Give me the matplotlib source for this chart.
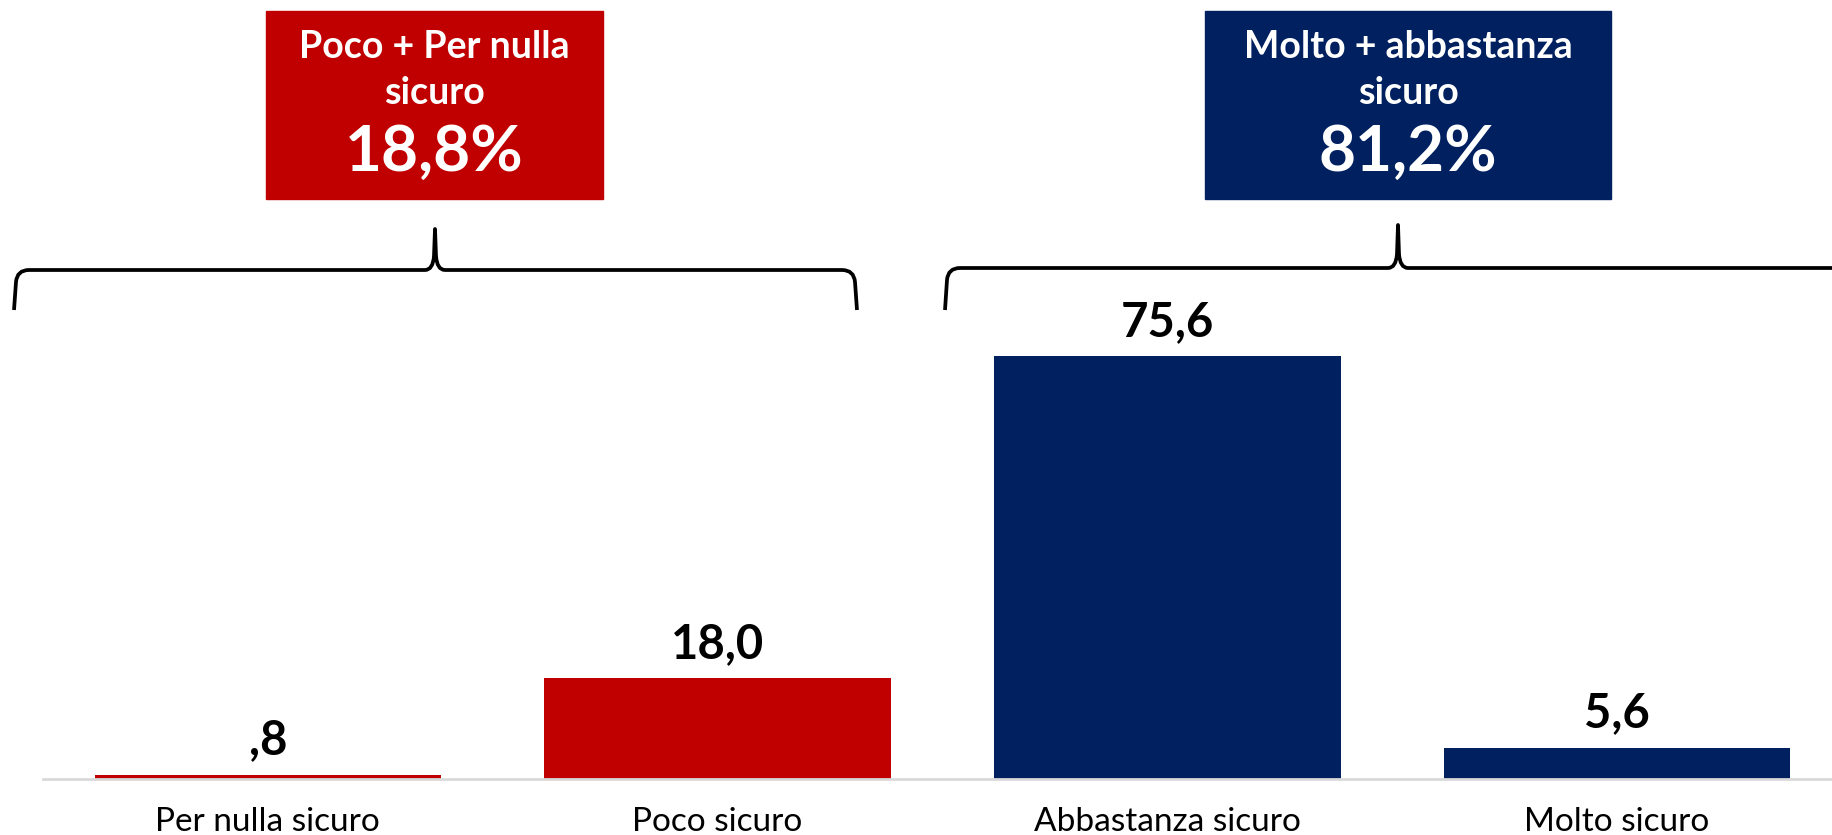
import matplotlib.pyplot as plt
from matplotlib.path import Path
from matplotlib.patches import PathPatch, Rectangle

############################################### Data ###################################################################
categories = ['Per nulla sicuro', 'Poco sicuro', 'Abbastanza sicuro', 'Molto sicuro']
values = [0.8, 18.0, 75.6, 5.6]
value_labels = [',8', '18,0', '75,6', '5,6']
bar_colors = ['#C00000', '#C00000', '#002060', '#002060']

group_titles = ['Poco + Per nulla\nsicuro', 'Molto + abbastanza\nsicuro']
group_totals = ['18,8%', '81,2%']
group_colors = ['#C00000', '#002060']

############################################### Figure #################################################################
W, H = 1833, 835
plt.rcParams['font.family'] = ['Lato', 'DejaVu Sans']
fig = plt.figure(figsize=(W / 100, H / 100), dpi=100)

# main axes: baseline at pixel 779 from top, starts at x=43
ax = fig.add_axes([43 / W, (H - 779) / H, (W - 43) / W, 779 / H])
ax.bar(range(len(values)), values, width=0.77, color=bar_colors, zorder=2)
ax.set_xlim(-0.5, 3.48)
ax.set_ylim(0, 779 / 5.59)

for i, (v, lab) in enumerate(zip(values, value_labels)):
    ax.annotate(lab, (i, v), xytext=(0, 9), textcoords='offset points',
                ha='center', va='bottom', fontsize=34, fontweight='bold', color='black')

for s in ['top', 'right', 'left']:
    ax.spines[s].set_visible(False)
ax.spines['bottom'].set_color('#D9D9D9')
ax.spines['bottom'].set_linewidth(2)
ax.set_yticks([])
ax.set_xticks(range(len(categories)))
ax.set_xticklabels(categories, fontsize=24)
ax.tick_params(axis='x', length=0, pad=20)

############################################### Overlay: boxes and braces ##############################################
ov = fig.add_axes([0, 0, 1, 1])
ov.set_xlim(0, W)
ov.set_ylim(H, 0)
ov.axis('off')
ov.patch.set_alpha(0)


def brace(x0, x1, xt, yh, ye, yt):
    verts = [(x0, ye), (x0 + 2, yh + 12), (x0 + 3, yh), (x0 + 15, yh),
             (xt - 10, yh), (xt - 2, yh), (xt - 1, yh - 14), (xt, yt),
             (xt + 1, yh - 14), (xt + 2, yh), (xt + 10, yh),
             (x1 - 15, yh), (x1 - 3, yh), (x1 - 2, yh + 12), (x1, ye)]
    codes = [Path.MOVETO, Path.LINETO, Path.CURVE3, Path.CURVE3,
             Path.LINETO, Path.CURVE3, Path.CURVE3, Path.LINETO,
             Path.LINETO, Path.CURVE3, Path.CURVE3,
             Path.LINETO, Path.CURVE3, Path.CURVE3, Path.LINETO]
    ov.add_patch(PathPatch(Path(verts, codes), fill=False, lw=2.7, color='black',
                           capstyle='butt', joinstyle='round'))


brace(14, 857, 435, 270, 310, 229)
brace(945, 1851, 1398, 268, 310, 225)

boxes = [(266, 603), (1205, 1611)]
for (bx0, bx1), title, total, col in zip(boxes, group_titles, group_totals, group_colors):
    ov.add_patch(Rectangle((bx0, 11), bx1 - bx0, 188, color=col))
    cx = (bx0 + bx1) / 2
    ov.text(cx, 70, title, ha='center', va='center', color='white',
            fontsize=27, fontweight='bold', linespacing=1.42)
    ov.text(cx, 152, total, ha='center', va='center', color='white',
            fontsize=46, fontweight='bold')

fig.savefig('out.png', dpi=100)
